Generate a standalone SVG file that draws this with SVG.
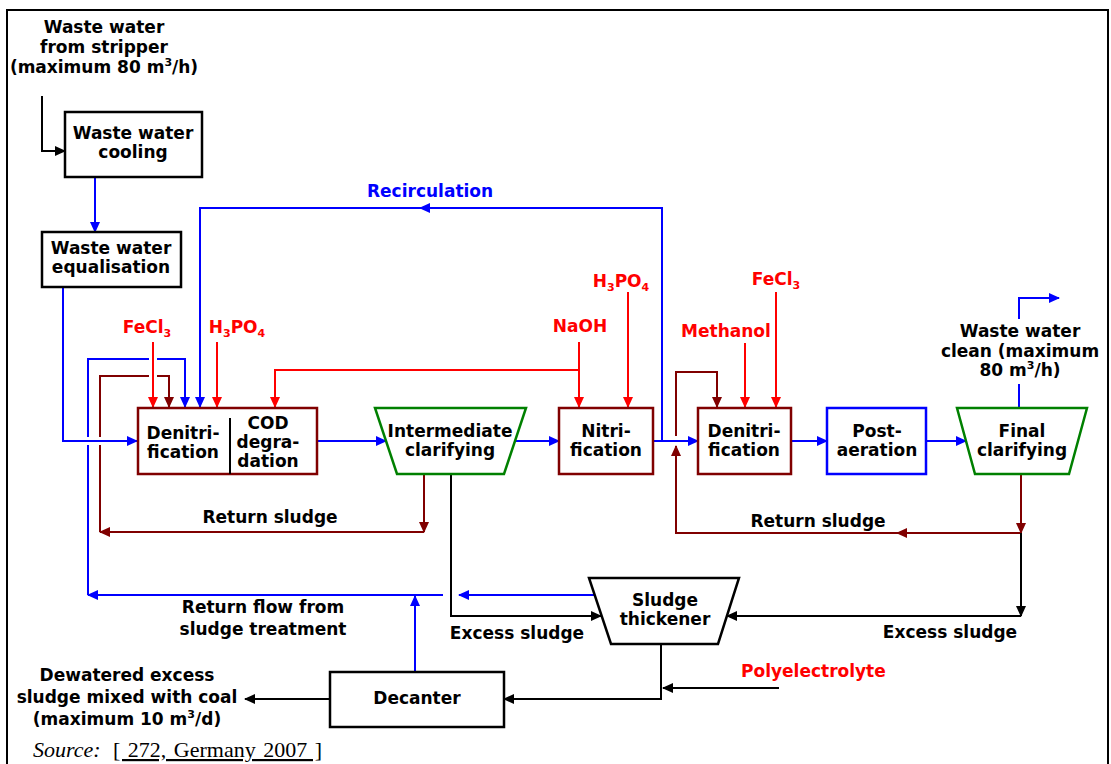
<svg xmlns="http://www.w3.org/2000/svg" width="1111" height="764" viewBox="0 0 1111 764">
<defs>
<style>
.t{font-family:"DejaVu Sans","Liberation Sans",sans-serif;font-weight:bold;font-size:17px;fill:#000;text-anchor:middle}
.st{text-anchor:start}
.r{fill:#ff0000}
.bl{fill:#0000ff}
.sub{font-size:11px}
.box{fill:#fff;stroke:#000;stroke-width:2.5}
.mr{stroke:#800000}
.gr{stroke:#008000}
.bu{stroke:#0000ff}
.lk{fill:none;stroke:#000;stroke-width:2}
.lb{fill:none;stroke:#0000ff;stroke-width:2}
.lr{fill:none;stroke:#ff0000;stroke-width:2}
.lm{fill:none;stroke:#800000;stroke-width:2}
.halo{fill:none;stroke:#fff;stroke-width:8}
.src{font-family:"Liberation Serif","Times New Roman",serif;font-size:22px;fill:#000}
</style>
<marker id="ak" markerUnits="userSpaceOnUse" markerWidth="11" markerHeight="10" refX="10" refY="5" orient="auto"><path d="M0,0 L11,5 L0,10 z" fill="#000"/></marker>
<marker id="ab" markerUnits="userSpaceOnUse" markerWidth="11" markerHeight="10" refX="10" refY="5" orient="auto"><path d="M0,0 L11,5 L0,10 z" fill="#0000ff"/></marker>
<marker id="ar" markerUnits="userSpaceOnUse" markerWidth="11" markerHeight="10" refX="10" refY="5" orient="auto"><path d="M0,0 L11,5 L0,10 z" fill="#ff0000"/></marker>
<marker id="am" markerUnits="userSpaceOnUse" markerWidth="11" markerHeight="10" refX="10" refY="5" orient="auto"><path d="M0,0 L11,5 L0,10 z" fill="#800000"/></marker>
</defs>
<rect x="0" y="0" width="1111" height="764" fill="#fff"/>
<rect x="7" y="10" width="1101" height="770" fill="none" stroke="#000" stroke-width="2"/>

<g id="connectors">
<path class="lk" d="M42,96 V151 H65" marker-end="url(#ak)"/>
<path class="lb" d="M95,177 V232" marker-end="url(#ab)"/>
<path class="lb" d="M88,595 V359 H185 V407" marker-end="url(#ab)"/>
<path class="lm" d="M100,532 V376 H169 V407" marker-end="url(#am)"/>
<line class="halo" x1="80" y1="441" x2="108" y2="441"/>
<path class="lb" d="M63,287 V441 H137" marker-end="url(#ab)"/>
<line class="halo" x1="153" y1="352" x2="153" y2="384"/>
<path class="lr" d="M153,342 V407" marker-end="url(#ar)"/>
<path class="lr" d="M217,342 V407" marker-end="url(#ar)"/>
<path class="lr" d="M579,370 H275 V407" marker-end="url(#ar)"/>
<path class="lr" d="M579,342 V407" marker-end="url(#ar)"/>
<path class="lr" d="M628,292 V407" marker-end="url(#ar)"/>
<path class="lr" d="M745,343 V407" marker-end="url(#ar)"/>
<path class="lr" d="M776,292 V407" marker-end="url(#ar)"/>
<path class="lb" d="M662,441 V208 H420" marker-end="url(#ab)"/>
<path class="lb" d="M422,208 H200 V407" marker-end="url(#ab)"/>
<path class="lb" d="M317,441 H386" marker-end="url(#ab)"/>
<path class="lb" d="M515,441 H559" marker-end="url(#ab)"/>
<path class="lb" d="M653,441 H698" marker-end="url(#ab)"/>
<path class="lb" d="M791,441 H827" marker-end="url(#ab)"/>
<path class="lb" d="M926,441 H966" marker-end="url(#ab)"/>
<path class="lb" d="M1019,408 V384"/>
<path class="lb" d="M1019,319 V298 H1059" marker-end="url(#ab)"/>
<path class="lm" d="M424,474 V532" marker-end="url(#am)"/>
<path class="lm" d="M424,532 H100" marker-end="url(#am)"/>
<path class="lm" d="M1021,474 V533" marker-end="url(#am)"/>
<path class="lm" d="M1021,533 H897" marker-end="url(#am)"/>
<path class="lm" d="M899,533 H676 V446" marker-end="url(#am)"/>
<path class="lm" d="M676,436 V372 H717 V407" marker-end="url(#am)"/>
<path class="lk" d="M451,474 V616 H601" marker-end="url(#ak)"/>
<path class="lk" d="M1021,533 V616" marker-end="url(#ak)"/>
<path class="lk" d="M1021,616 H727" marker-end="url(#ak)"/>
<path class="lb" d="M595,595 H459" marker-end="url(#ab)"/>
<path class="lb" d="M443,595 H88" marker-end="url(#ab)"/>
<path class="lb" d="M415,672 V596" marker-end="url(#ab)"/>
<path class="lk" d="M661,644 V699 H504" marker-end="url(#ak)"/>
<path class="lk" d="M779,688 H663" marker-end="url(#ak)"/>
<path class="lk" d="M330,699 H245" marker-end="url(#ak)"/>
</g>

<g id="n-cooling">
<rect class="box" x="65" y="112" width="137" height="65"/>
<text class="t" x="133" y="139">Waste water</text>
<text class="t" x="133" y="158">cooling</text>
</g>
<g id="n-equalisation">
<rect class="box" x="42" y="232" width="139" height="55"/>
<text class="t" x="111" y="254">Waste water</text>
<text class="t" x="111" y="273">equalisation</text>
</g>
<g id="n-denitri1">
<rect class="box mr" x="138" y="408" width="179" height="66"/>
<line x1="230" y1="418" x2="230" y2="474" stroke="#000" stroke-width="2"/>
<text class="t" x="183" y="439">Denitri-</text>
<text class="t" x="183" y="458">fication</text>
<text class="t" x="268" y="429">COD</text>
<text class="t" x="268" y="448">degra-</text>
<text class="t" x="268" y="467">dation</text>
</g>
<g id="n-intermediate">
<path class="box gr" d="M375,408 H526 L504,474 H397 Z"/>
<text class="t" x="450" y="437">Intermediate</text>
<text class="t" x="450" y="456">clarifying</text>
</g>
<g id="n-nitri">
<rect class="box mr" x="559" y="408" width="94" height="66"/>
<text class="t" x="606" y="437">Nitri-</text>
<text class="t" x="606" y="456">fication</text>
</g>
<g id="n-denitri2">
<rect class="box mr" x="698" y="408" width="93" height="66"/>
<text class="t" x="744" y="437">Denitri-</text>
<text class="t" x="744" y="456">fication</text>
</g>
<g id="n-postaeration">
<rect class="box bu" x="827" y="408" width="99" height="66"/>
<text class="t" x="877" y="437">Post-</text>
<text class="t" x="877" y="456">aeration</text>
</g>
<g id="n-final">
<path class="box gr" d="M957,408 H1087 L1069,474 H975 Z"/>
<text class="t" x="1022" y="437">Final</text>
<text class="t" x="1022" y="456">clarifying</text>
</g>
<g id="n-thickener">
<path class="box" d="M589,578 H739 L718,644 H611 Z"/>
<text class="t" x="665" y="606">Sludge</text>
<text class="t" x="665" y="625">thickener</text>
</g>
<g id="n-decanter">
<rect class="box" x="330" y="672" width="174" height="55"/>
<text class="t" x="417" y="704">Decanter</text>
</g>

<g id="labels">
<text class="t" x="104" y="33">Waste water</text>
<text class="t" x="104" y="53">from stripper</text>
<text class="t" x="104" y="73">(maximum 80 m<tspan class="sub" dy="-7">3</tspan><tspan dy="7">/h)</tspan></text>
<text class="t bl st" x="367" y="197">Recirculation</text>
<text class="t r" x="147" y="333">FeCl<tspan class="sub" dy="4">3</tspan></text>
<text class="t r" x="237" y="333">H<tspan class="sub" dy="4">3</tspan><tspan dy="-4">PO</tspan><tspan class="sub" dy="4">4</tspan></text>
<text class="t r" x="580" y="332">NaOH</text>
<text class="t r" x="621" y="287">H<tspan class="sub" dy="4">3</tspan><tspan dy="-4">PO</tspan><tspan class="sub" dy="4">4</tspan></text>
<text class="t r" x="726" y="337">Methanol</text>
<text class="t r" x="776" y="285">FeCl<tspan class="sub" dy="4">3</tspan></text>
<text class="t" x="1020" y="337">Waste water</text>
<text class="t" x="1020" y="357">clean (maximum</text>
<text class="t" x="1020" y="376">80 m<tspan class="sub" dy="-7">3</tspan><tspan dy="7">/h)</tspan></text>
<text class="t" x="270" y="523">Return sludge</text>
<text class="t" x="818" y="527">Return sludge</text>
<text class="t" x="517" y="639">Excess sludge</text>
<text class="t" x="950" y="638">Excess sludge</text>
<text class="t" x="263" y="613">Return flow from</text>
<text class="t" x="263" y="635">sludge treatment</text>
<text class="t r st" x="741" y="677">Polyelectrolyte</text>
<text class="t" x="127" y="681">Dewatered excess</text>
<text class="t" x="127" y="703">sludge mixed with coal</text>
<text class="t" x="127" y="725">(maximum 10 m<tspan class="sub" dy="-7">3</tspan><tspan dy="7">/d)</tspan></text>
<text class="src" x="33" y="757" font-style="italic" font-size="20">Source:</text>
<text class="src" x="113" y="757" text-decoration="underline" word-spacing="2">[ 272, Germany 2007 ]</text>
</g>
</svg>
